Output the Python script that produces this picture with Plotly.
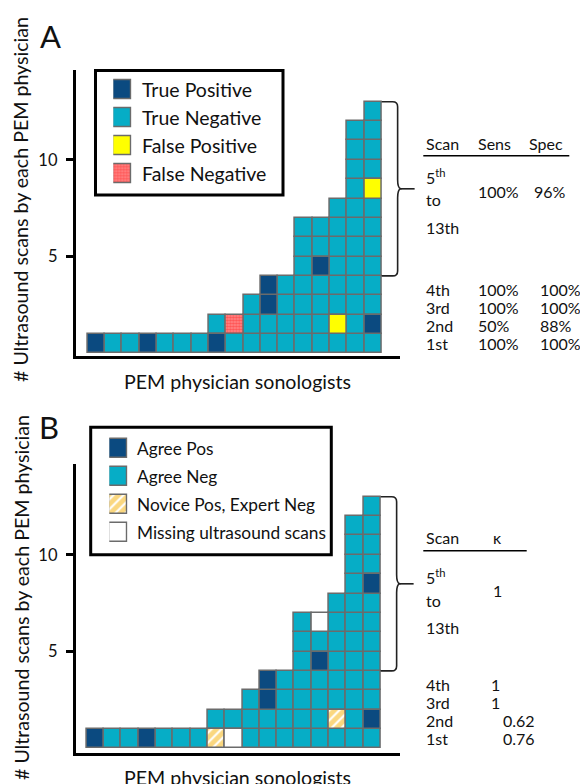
import plotly.graph_objects as go

W, H = 580, 784
FONT = "Lato"
INK = "#111111"

# ---------------- data ----------------
physicians = list(range(1, 18))
scans_per_physician = [1, 1, 1, 1, 1, 1, 1, 2, 2, 3, 4, 4, 7, 7, 8, 12, 13]

# Panel A: novice vs. reference outcome for each scan
a_true_pos_phys = [1, 4, 8, 11, 11, 14, 17]
a_true_pos_scan = [1, 1, 1, 3, 4, 5, 2]
a_false_pos_phys = [15, 17]
a_false_pos_scan = [2, 9]
a_false_neg_phys = [9]
a_false_neg_scan = [2]

# Panel B: novice vs. expert agreement for each scan
b_agree_pos_phys = [1, 4, 11, 11, 14, 17, 17]
b_agree_pos_scan = [1, 1, 3, 4, 5, 2, 9]
b_novice_pos_phys = [8, 15]
b_novice_pos_scan = [1, 2]
b_missing_phys = [9, 14]
b_missing_scan = [1, 7]

a_legend_labels = ["True Positive", "True Negative", "False Positive", "False Negative"]
b_legend_labels = ["Agree Pos", "Agree Neg", "Novice Pos, Expert Neg", "Missing ultrasound scans"]

a_table_header = ["Scan", "Sens", "Spec"]
b_table_header = ["Scan", "κ"]
group_label_top = "5<sup>th</sup>"
group_label_mid = "to"
group_label_bot = "13th"
a_group_sens = "100%"
a_group_spec = "96%"
b_group_kappa = "1"
row_labels = ["4th", "3rd", "2nd", "1st"]
a_row_sens = ["100%", "100%", "50%", "100%"]
a_row_spec = ["100%", "100%", "88%", "100%"]
b_row_kappa = ["1", "1", "0.62", "0.76"]
brace_from_scan = 4

y_title = "# Ultrasound scans by each PEM physician"
x_title = "PEM physician sonologists"
y_tick_vals = [5, 10]

# ---------------- styles ----------------
NAVY = "#0b4a80"
TEAL = "#06adc6"
YELLOW = "#ffff00"
EDGE = "#6b6b6b"
STYLES = {
    "tp": dict(color=NAVY),
    "tn": dict(color=TEAL),
    "fp": dict(color=YELLOW),
    "fn": dict(color="#ff5a5a",
               pattern=dict(shape=".", fgcolor="#ff1e1e", bgcolor="#ff8c8c", size=3, solidity=0.6)),
    "novice": dict(color="white",
                   pattern=dict(shape="/", fgcolor="#f5b000", bgcolor="white", size=7, solidity=0.7)),
    "missing": dict(color="white"),
}

# pixel geometry of each panel
PANELS = {
    "A": dict(left=75.8, right=400, top=70, bottom=356.2, x_half=87.7, xunit=17.29, y0=353.3, yunit=19.35),
    "B": dict(left=75.8, right=400, top=464, bottom=753.0, x_half=86.7, xunit=17.29, y0=748.3, yunit=19.35),
}


def px_x(px):
    return px / W


def px_y(py):
    return 1 - py / H


def data_to_px_y(panel, v):
    g = PANELS[panel]
    return g["y0"] - v * g["yunit"]


def data_to_px_x(panel, v):
    g = PANELS[panel]
    return g["x_half"] + (v - 0.5) * g["xunit"]


def cells_excluding(special):
    xs, ys = [], []
    for p, n in zip(physicians, scans_per_physician):
        for s in range(1, n + 1):
            if (p, s) not in special:
                xs.append(p)
                ys.append(s)
    return xs, ys


def cell_bar(xs, ys, style, xa, ya):
    return go.Bar(
        x=xs, y=[1] * len(xs), base=[s - 1 for s in ys], width=1,
        marker=dict(line=dict(color=EDGE, width=1.5), **STYLES[style]),
        xaxis=xa, yaxis=ya, showlegend=False, hoverinfo="skip",
    )


fig = go.Figure()

# Panel A cells
a_special = set(zip(a_true_pos_phys, a_true_pos_scan)) | set(zip(a_false_pos_phys, a_false_pos_scan)) \
    | set(zip(a_false_neg_phys, a_false_neg_scan))
a_tn_phys, a_tn_scan = cells_excluding(a_special)
fig.add_trace(cell_bar(a_tn_phys, a_tn_scan, "tn", "x", "y"))
fig.add_trace(cell_bar(a_true_pos_phys, a_true_pos_scan, "tp", "x", "y"))
fig.add_trace(cell_bar(a_false_pos_phys, a_false_pos_scan, "fp", "x", "y"))
fig.add_trace(cell_bar(a_false_neg_phys, a_false_neg_scan, "fn", "x", "y"))

# Panel B cells
b_special = set(zip(b_agree_pos_phys, b_agree_pos_scan)) | set(zip(b_novice_pos_phys, b_novice_pos_scan)) \
    | set(zip(b_missing_phys, b_missing_scan))
b_an_phys, b_an_scan = cells_excluding(b_special)
fig.add_trace(cell_bar(b_an_phys, b_an_scan, "tn", "x2", "y2"))
fig.add_trace(cell_bar(b_agree_pos_phys, b_agree_pos_scan, "tp", "x2", "y2"))
fig.add_trace(cell_bar(b_novice_pos_phys, b_novice_pos_scan, "novice", "x2", "y2"))
fig.add_trace(cell_bar(b_missing_phys, b_missing_scan, "missing", "x2", "y2"))

# legend swatches (bars on small hidden axes)
LEGENDS = {
    "A": dict(labels=a_legend_labels, styles=["tp", "tn", "fp", "fn"], sw_left=113.3, sw_w=18.3,
              first=89.3, step=28.0, text_x=140.0, font=19.5, box=(95.5, 70.5, 283, 195), xa="x3", ya="y3"),
    "B": dict(labels=b_legend_labels, styles=["tp", "tn", "novice", "missing"], sw_left=109.3, sw_w=18.3,
              first=449.0, step=27.9, text_x=135.0, font=17.3, box=(90.7, 427.2, 331.3, 554.7), xa="x4", ya="y4"),
}
annotations = []
shapes = []
for key, lg in LEGENDS.items():
    for i, st in enumerate(lg["styles"]):
        fig.add_trace(go.Bar(
            x=[0], y=[19.0 / lg["step"]], base=[-i - 9.5 / lg["step"]], width=1,
            marker=dict(line=dict(color=EDGE, width=1.5), **STYLES[st]),
            xaxis=lg["xa"], yaxis=lg["ya"], showlegend=False, hoverinfo="skip",
        ))
        annotations.append(dict(
            text=lg["labels"][i], xref="paper", x=px_x(lg["text_x"]), yref=lg["ya"], y=-i,
            xanchor="left", yanchor="middle", showarrow=False,
            font=dict(family=FONT, size=lg["font"], color=INK),
        ))
    x0, y0, x1, y1 = lg["box"]
    shapes.append(dict(type="rect", xref="paper", yref="paper", x0=px_x(x0), x1=px_x(x1),
                       y0=px_y(y0), y1=px_y(y1), line=dict(color="black", width=3),
                       fillcolor="rgba(0,0,0,0)", layer="above"))

layout_axes = {}
for key, (xa, ya) in {"A": ("xaxis", "yaxis"), "B": ("xaxis2", "yaxis2")}.items():
    g = PANELS[key]
    xr = [0.5 + (g["left"] - g["x_half"]) / g["xunit"], 0.5 + (g["right"] - g["x_half"]) / g["xunit"]]
    yr = [(g["y0"] - g["bottom"]) / g["yunit"], (g["y0"] - g["top"]) / g["yunit"]]
    yid = "y" if key == "A" else "y2"
    xid = "x" if key == "A" else "x2"
    layout_axes[xa] = dict(domain=[px_x(g["left"]), px_x(g["right"])], range=xr, anchor=yid,
                           showline=True, linewidth=3, linecolor="black", showgrid=False,
                           zeroline=False, showticklabels=False, ticks="", fixedrange=True)
    layout_axes[ya] = dict(domain=[px_y(g["bottom"]), px_y(g["top"])], range=yr, anchor=xid,
                           showline=True, linewidth=3, linecolor="black", showgrid=False,
                           zeroline=False, ticks="outside", ticklen=7, tickwidth=2.5, tickcolor="black",
                           tickvals=y_tick_vals, tickfont=dict(family=FONT, size=16.5, color=INK),
                           ticklabelstandoff=5, fixedrange=True)

for key, (xa, ya) in {"A": ("xaxis3", "yaxis3"), "B": ("xaxis4", "yaxis4")}.items():
    lg = LEGENDS[key]
    top = lg["first"] - lg["step"] / 2
    bot = lg["first"] + 3.5 * lg["step"]
    layout_axes[xa] = dict(domain=[px_x(lg["sw_left"]), px_x(lg["sw_left"] + lg["sw_w"])], range=[-0.5, 0.5],
                           visible=False, anchor=ya[0] + ya[5:], fixedrange=True)
    layout_axes[ya] = dict(domain=[px_y(bot), px_y(top)], range=[-3.5, 0.5],
                           visible=False, anchor=xa[0] + xa[5:], fixedrange=True)


def text(t, x, y, size=16, xanchor="left", angle=0):
    annotations.append(dict(text=t, xref="paper", yref="paper", x=px_x(x), y=px_y(y),
                            xanchor=xanchor, yanchor="middle", showarrow=False, textangle=angle,
                            font=dict(family=FONT, size=size, color=INK)))


# panel letters, axis titles
text("A", 50.5, 36, size=31, xanchor="center")
text("B", 49, 427, size=31, xanchor="center")
text(y_title, 21, 200, size=19.6, xanchor="center", angle=-90)
text(y_title, 21, 598, size=19.6, xanchor="center", angle=-90)
text(x_title, 237.5, 381, size=19.6, xanchor="center")
text(x_title, 237.5, 777, size=19.6, xanchor="center")


def brace(panel):
    xl = data_to_px_x(panel, max(physicians) + 0.5)
    yt = data_to_px_y(panel, max(scans_per_physician))
    yb = data_to_px_y(panel, brace_from_scan)
    ym = (yt + yb) / 2
    xv = xl + 16.0
    xc = xl + 19.0
    xtip = xl + 33.0
    r = 5.0
    pts = [
        ("M", (xl, yt)), ("L", (xv - r, yt)), ("Q", (xv, yt), (xv, yt + r)),
        ("L", (xv, ym - 9)), ("Q", (xv, ym - 1), (xc, ym)),
        ("Q", (xv, ym + 1), (xv, ym + 9)), ("L", (xv, yb - r)),
        ("Q", (xv, yb), (xv - r, yb)), ("L", (xl, yb)),
    ]
    path = ""
    for item in pts:
        cmd = item[0]
        coords = " ".join(f"{px_x(p[0]):.5f},{px_y(p[1]):.5f}" for p in item[1:])
        path += f"{cmd}{coords} "
    shapes.append(dict(type="path", xref="paper", yref="paper", path=path.strip(),
                       line=dict(color="#222222", width=1.6)))
    shapes.append(dict(type="line", xref="paper", yref="paper", x0=px_x(xc), x1=px_x(xtip),
                       y0=px_y(ym), y1=px_y(ym), line=dict(color="#222222", width=1.6)))


brace("A")
brace("B")

# Table A
hy = 143.3
for t, x in zip(a_table_header, [425, 477.3, 528.3]):
    text(t, x - 1, hy)
shapes.append(dict(type="line", xref="paper", yref="paper", x0=px_x(423.3), x1=px_x(569.3),
                   y0=px_y(155.7), y1=px_y(155.7), line=dict(color="black", width=1.5)))
text(group_label_top, 424, 177)
text(group_label_mid, 424, 199)
text(group_label_bot, 424, 227)
text(a_group_sens, 476.3, 191)
text(a_group_spec, 532.3, 191)
row_y_a = [289.3, 307.0, 325.0, 343.3]
for lab, s, sp, y in zip(row_labels, a_row_sens, a_row_spec, row_y_a):
    text(lab, 424, y)
    text(s, 476.3, y)
    text(sp, 537.5, y)

# Table B
hy = 537.7
text(b_table_header[0], 424, hy)
text(b_table_header[1], 490.7, hy)
shapes.append(dict(type="line", xref="paper", yref="paper", x0=px_x(423.3), x1=px_x(526.7),
                   y0=px_y(550.7), y1=px_y(550.7), line=dict(color="black", width=1.5)))
text(group_label_top, 424, 576)
text(group_label_mid, 424, 600.5)
text(group_label_bot, 424, 627)
text(b_group_kappa, 490.7, 590)
row_y_b = [684.3, 702.3, 720.0, 738.3]
for lab, k, y in zip(row_labels, b_row_kappa, row_y_b):
    text(lab, 424, y)
    text(k, 489 if len(k) == 1 else 500.7, y)

fig.update_layout(
    width=W, height=H, margin=dict(l=0, r=0, t=0, b=0),
    paper_bgcolor="white", plot_bgcolor="rgba(0,0,0,0)",
    barmode="overlay", bargap=0, showlegend=False,
    font=dict(family=FONT, color=INK),
    annotations=annotations, shapes=shapes,
    **layout_axes,
)

# the page's default 8px body margin would shift the fixed-size figure; remove it
fig.write_html("out.html", config={"displayModeBar": False},
               post_script="document.body.style.margin='0px';")
